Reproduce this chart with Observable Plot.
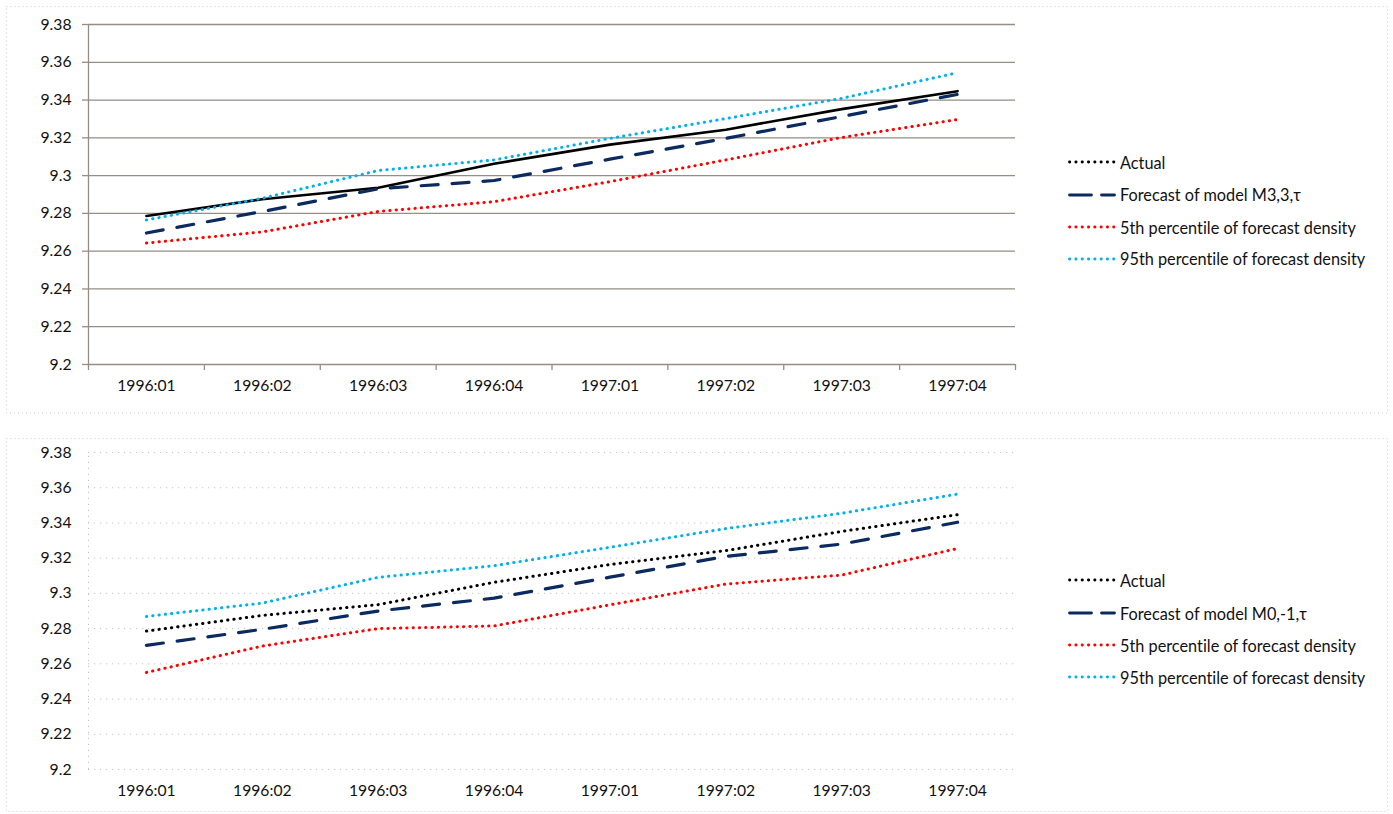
<!DOCTYPE html>
<html><head><meta charset="utf-8">
<script src="https://cdn.jsdelivr.net/npm/d3@7"></script>
<script src="https://cdn.jsdelivr.net/npm/@observablehq/plot@0.6"></script>
<style>
body{margin:0;background:#fff;font-family:Lato,sans-serif;font-variant-ligatures:none;}
#wrap{position:relative;width:1393px;height:814px;overflow:hidden;background:#fff}
.chart{position:absolute;left:0}
.chart text{font-variant-ligatures:none}
.legend{position:absolute;left:1068px;font-family:Lato,sans-serif;font-size:16.3px;color:#111;font-variant-ligatures:none}
.legend .row{position:absolute;left:0;white-space:nowrap;display:flex;align-items:center;height:22px;margin-top:-11px}
.legend .row svg{margin-right:4px}
#frame{position:absolute;left:0;top:0}
</style></head><body><div id="wrap"></div>
<script>
// ---------- data ----------
const categories = ["1996:01","1996:02","1996:03","1996:04","1997:01","1997:02","1997:03","1997:04"];
const yTicks = [9.2, 9.22, 9.24, 9.26, 9.28, 9.3, 9.32, 9.34, 9.36, 9.38];

const actual      = [9.2786, 9.2875, 9.2936, 9.3063, 9.3164, 9.3243, 9.3352, 9.3447];

const forecastM33 = [9.2696, 9.2810, 9.2930, 9.2974, 9.3087, 9.3197, 9.3313, 9.3430];
const p5Top       = [9.2643, 9.2702, 9.2810, 9.2862, 9.2968, 9.3083, 9.3202, 9.3297];
const p95Top      = [9.2765, 9.2880, 9.3027, 9.3083, 9.3197, 9.3302, 9.3409, 9.3545];

const forecastM01 = [9.2705, 9.2796, 9.2900, 9.2973, 9.3092, 9.3210, 9.3280, 9.3404];
const p5Bottom    = [9.2551, 9.2701, 9.2800, 9.2815, 9.2935, 9.3053, 9.3104, 9.3255];
const p95Bottom   = [9.2869, 9.2945, 9.3091, 9.3157, 9.3262, 9.3368, 9.3455, 9.3564];

const legendTop    = ["Actual", "Forecast of model M3,3,\u03c4", "5th percentile of forecast density", "95th percentile of forecast density"];
const legendBottom = ["Actual", "Forecast of model M0,-1,\u03c4", "5th percentile of forecast density", "95th percentile of forecast density"];

// ---------- styles ----------
const NAVY = "#0b2a60", RED = "#ff0000", CYAN = "#00b0f0", BLACK = "#000000";
const GRID = "#968d84", LIGHT = "#c4c4c4", TEXT = "#111111";
const dotted = (color) => ({stroke: color, strokeWidth: 3, strokeDasharray: "0.3,6", strokeLinecap: "round"});
const dashed = {stroke: NAVY, strokeWidth: 3.2, strokeDasharray: "17,14", strokeLinecap: "round"};
const solid = {stroke: BLACK, strokeWidth: 2.6};

const rows = (arr) => arr.map((v, i) => ({i, v}));
const fmt = (d) => String(+d.toFixed(2));
const bounds = d3.range(categories.length + 1).map(i => i - 0.5);
const idx = d3.range(categories.length);

function chart({series, top, height, marginTop, marginBottom, solidGrid}) {
  const marks = [];
  if (solidGrid) {
    marks.push(Plot.gridY(yTicks, {stroke: GRID, strokeOpacity: 1, strokeWidth: 1.3}));
    marks.push(Plot.ruleX([-0.5], {y1: 9.2, y2: 9.38, stroke: GRID, strokeWidth: 1.3}));
    marks.push(Plot.axisY(yTicks, {tickSize: 6, stroke: GRID, strokeWidth: 1.3, tickFormat: () => "", label: null}));
    marks.push(Plot.axisX(bounds, {tickSize: 6, stroke: GRID, strokeWidth: 1.3, tickFormat: () => "", label: null}));
  } else {
    marks.push(Plot.gridY(yTicks, {stroke: LIGHT, strokeOpacity: 1, strokeWidth: 1, strokeDasharray: "1.2,4.8"}));
    marks.push(Plot.ruleX([-0.5], {y1: 9.2, y2: 9.38, stroke: LIGHT, strokeWidth: 1, strokeDasharray: "1.2,4.8"}));
  }
  marks.push(Plot.axisY(yTicks, {tickSize: 0, tickPadding: 17, tickFormat: fmt, fill: TEXT, label: null}));
  marks.push(Plot.axisX(idx, {tickSize: 0, tickPadding: 15, tickFormat: i => categories[i], fill: TEXT, label: null}));
  for (const s of series) marks.push(Plot.line(rows(s.data), {x: "i", y: "v", ...s.style}));
  const svg = Plot.plot({
    width: 1393, height,
    marginLeft: 88, marginRight: 378, marginTop, marginBottom,
    x: {type: "linear", domain: [-0.5, categories.length - 0.5]},
    y: {domain: [9.2, 9.38]},
    style: {fontFamily: "Lato, sans-serif", fontSize: "15.7px", background: "transparent", color: TEXT},
    marks
  });
  svg.classList.add("chart");
  svg.style.top = top + "px";
  return svg;
}

function legend(labels, styles, centers) {
  const div = document.createElement("div");
  div.className = "legend";
  div.style.top = "0px";
  labels.forEach((lab, k) => {
    const row = document.createElement("div");
    row.className = "row";
    row.style.top = centers[k] + "px";
    const st = styles[k];
    const sw = Math.min(st.strokeWidth, 2.8);
    const dash = st.strokeDasharray === dashed.strokeDasharray ? "22,10" : st.strokeDasharray;
    row.innerHTML = `<svg width="48" height="10"><line x1="1.5" y1="5" x2="46.5" y2="5" stroke="${st.stroke}" stroke-width="${sw}" stroke-dasharray="${dash}" stroke-linecap="${st.strokeLinecap || "butt"}"/></svg><span>${lab}</span>`;
    div.appendChild(row);
  });
  return div;
}

const wrap = document.getElementById("wrap");

// chart-area frames
const frame = d3.create("svg").attr("id", "frame").attr("width", 1393).attr("height", 814);
frame.append("rect").attr("x", 6.5).attr("y", 6.5).attr("width", 1381).attr("height", 406.5)
  .attr("fill", "none").attr("stroke", "#cfcfcf").attr("stroke-dasharray", "1,3");
frame.append("rect").attr("x", 6.5).attr("y", 438.5).attr("width", 1381).attr("height", 373)
  .attr("fill", "none").attr("stroke", "#cfcfcf").attr("stroke-dasharray", "1,3");
wrap.appendChild(frame.node());

const topSeries = [
  {data: actual, style: solid},
  {data: forecastM33, style: dashed},
  {data: p5Top, style: dotted(RED)},
  {data: p95Top, style: dotted(CYAN)}
];
const bottomSeries = [
  {data: actual, style: dotted(BLACK)},
  {data: forecastM01, style: dashed},
  {data: p5Bottom, style: dotted(RED)},
  {data: p95Bottom, style: dotted(CYAN)}
];

wrap.appendChild(chart({series: topSeries, top: 0, height: 413, marginTop: 24, marginBottom: 49, solidGrid: true}));
wrap.appendChild(chart({series: bottomSeries, top: 438, height: 374, marginTop: 14, marginBottom: 43, solidGrid: false}));

wrap.appendChild(legend(legendTop, [dotted(BLACK), dashed, dotted(RED), dotted(CYAN)], [162, 194.5, 227, 258.5]));
wrap.appendChild(legend(legendBottom, [dotted(BLACK), dashed, dotted(RED), dotted(CYAN)], [580, 613, 645, 677]));
</script>
</body></html>
